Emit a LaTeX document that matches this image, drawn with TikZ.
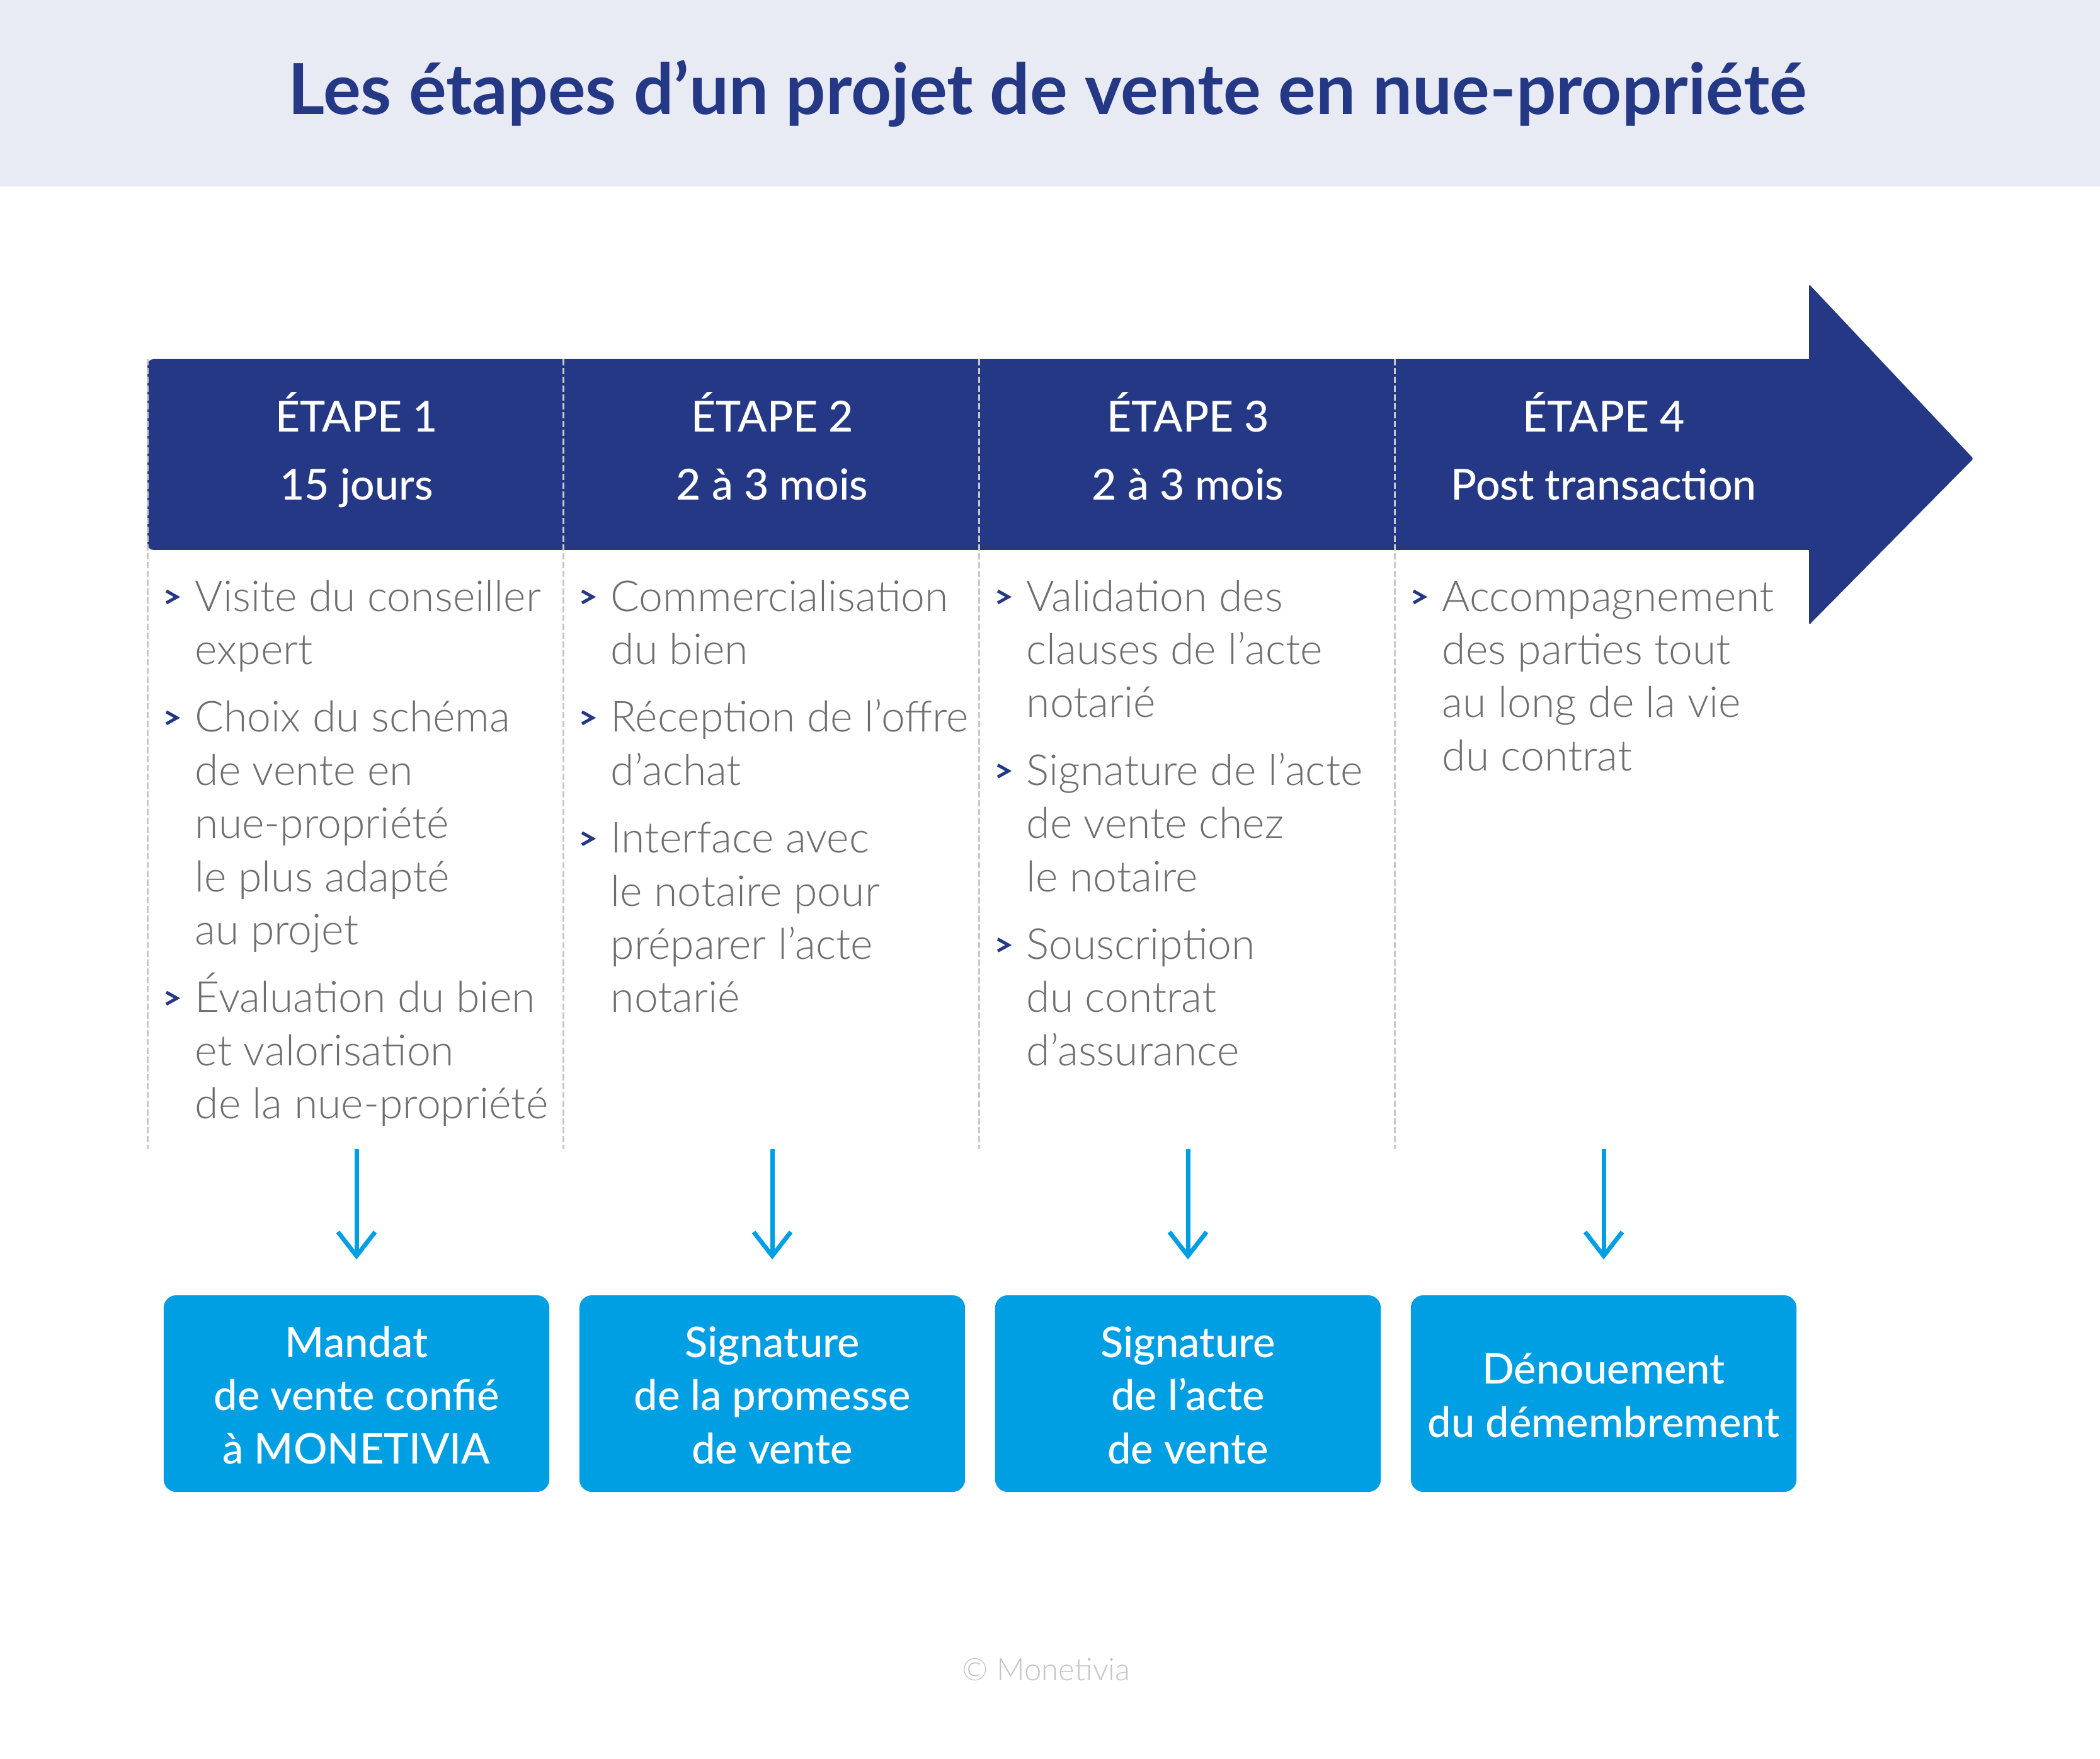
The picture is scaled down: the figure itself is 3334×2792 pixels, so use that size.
\documentclass[tikz,border=0pt]{standalone}
\usepackage{fontspec}
\setmainfont{Lato}
\newfontfamily\latolight{Lato Light}
\newfontfamily\latomed{Lato Medium}
\newfontfamily\latobold{Lato Bold}
\usetikzlibrary{positioning,calc,arrows.meta}
\definecolor{navy}{HTML}{253885}
\definecolor{sky}{HTML}{009FE3}
\definecolor{band}{HTML}{E8EBF3}
\definecolor{txtgray}{HTML}{6E6E6E}
\definecolor{dashgray}{HTML}{C8C8C8}
\definecolor{copygray}{HTML}{C4C4C4}

\newcommand\tall{\rule{0pt}{20pt}}
\newcommand\chevron[1]{\draw[chev] ($(#1.north west)+(-45,39)$) -- ++(17,9.5) -- ++(-17,9.5);}

\begin{document}
\begin{tikzpicture}[x=0.01cm,y=-0.01cm,
    point/.style={anchor=north west,align=left,inner sep=0pt,text=txtgray,font=\latolight\fontsize{19.3pt}{24pt}\selectfont},
    stage/.style={align=center,inner sep=0pt,text=white,font=\latomed\fontsize{19.3pt}{30.7pt}\selectfont},
    result/.style={fill=sky,rounded corners=0.2cm,minimum width=6.12cm,minimum height=3.12cm,inner sep=0pt,align=center,text=white,font=\latomed\fontsize{19pt}{24pt}\selectfont},
    chev/.style={navy,line width=0.05cm,miter limit=10},
    sep/.style={dashgray,line width=0.03cm,dash pattern=on 0.1cm off 0.04cm},
    down/.style={sky,line width=0.07cm,-{Straight Barb[length=0.38cm,width=0.59cm]},shorten >=0.56cm}]
        \useasboundingbox (0,0) rectangle (3334,2792);
        % title band
        \fill[band] (0,0) rectangle (3334,296);
        \node[anchor=base,text=navy,font=\latobold\fontsize{31.8pt}{38pt}\selectfont] (title) at (1663,182) {Les étapes d’un projet de vente en nue-propriété};
        % big arrow
        \fill[navy,rounded corners=0.1cm] (2880,570) -- (234,570) -- (234,873) -- (2880,873);
        \fill[navy,rounded corners=0.03cm] (2872,451) -- (3133,728) -- (2872,992) -- cycle;
        \foreach[count=\i] \a/\b in {ÉTAPE 1/15 jours,ÉTAPE 2/2 à 3 mois,ÉTAPE 3/2 à 3 mois,ÉTAPE 4/Post transaction} {
            \draw[sep] (234+660*\i-660,570) -- ++(0,1254);
            \node[stage] (h\i) at (566+660*\i-660,718) {\strut\a\\\b\strut};
        }
        % column 1
        \node[point] (c1a) at (309,899) {\tall Visite du conseiller\\expert\strut};
        \node[point,below=0.104cm of c1a.south west,anchor=north west] (c1b) {\tall Choix du schéma\\de vente en\\nue-propriété\\le plus adapté\\au projet\strut};
        \node[point,below=0.104cm of c1b.south west,anchor=north west] (c1c) {\tall Évaluation du bien\\et valorisation\\de la nue-propriété\strut};
        % column 2
        \node[point] (c2a) at (969,899) {\tall Commercialisation\\du bien\strut};
        \node[point,below=0.104cm of c2a.south west,anchor=north west] (c2b) {\tall Réception de l’offre\\d’achat\strut};
        \node[point,below=0.104cm of c2b.south west,anchor=north west] (c2c) {\tall Interface avec\\le notaire pour\\préparer l’acte\\notarié\strut};
        % column 3
        \node[point] (c3a) at (1629,899) {\tall Validation des\\clauses de l’acte\\notarié\strut};
        \node[point,below=0.104cm of c3a.south west,anchor=north west] (c3b) {\tall Signature de l’acte\\de vente chez\\le notaire\strut};
        \node[point,below=0.104cm of c3b.south west,anchor=north west] (c3c) {\tall Souscription\\du contrat\\d’assurance\strut};
        % column 4
        \node[point] (c4a) at (2289,899) {\tall Accompagnement\\des parties tout\\au long de la vie\\du contrat\strut};
        \foreach \n in {c1a,c1b,c1c,c2a,c2b,c2c,c3a,c3b,c3c,c4a} {\chevron{\n}}
        % results
        \foreach[count=\i] \lbl in {{Mandat\\de vente confié\\à MONETIVIA},{Signature\\de la promesse\\de vente},{Signature\\de l’acte\\de vente},{Dénouement\\du démembrement}} {
            \coordinate (a\i) at (566+660*\i-660,1824);
            \node[result] (b\i) at (566+660*\i-660,2212) {\rule{0pt}{22.5pt}\lbl\strut};
            \draw[down] (a\i) -- (b\i.north);
        }
        \node[anchor=base,text=copygray,font=\latolight\fontsize{14pt}{17pt}\selectfont] (copy) at (1661,2667) {© Monetivia};
\end{tikzpicture}
\end{document}
